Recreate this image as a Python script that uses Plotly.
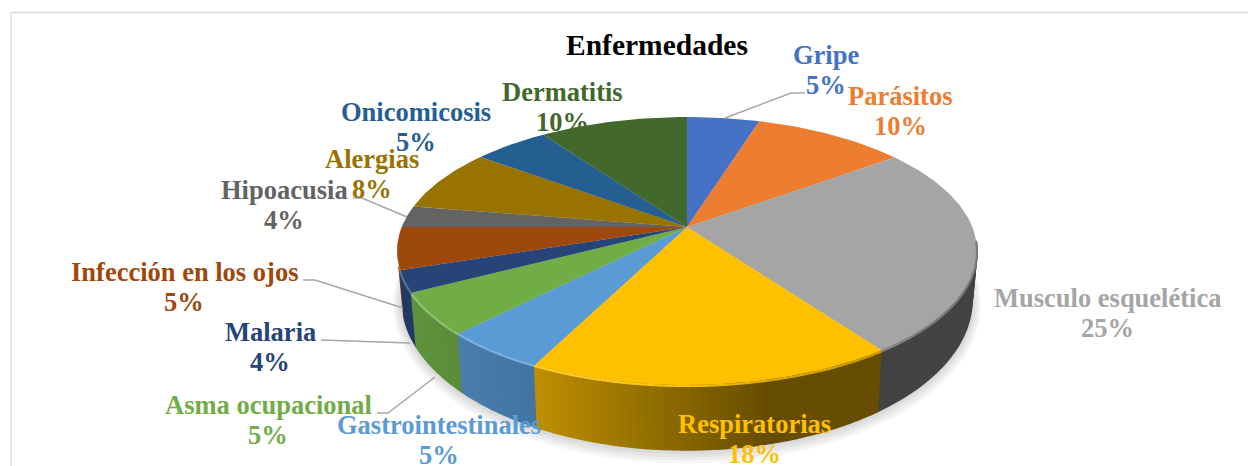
import math
import plotly.graph_objects as go

# ---- data ----
names = ["Gripe", "Parásitos", "Musculo esquelética", "Respiratorias", "Gastrointestinales",
         "Asma ocupacional", "Malaria", "Infección en los ojos", "Hipoacusia", "Alergias",
         "Onicomicosis", "Dermatitis"]
percent_labels = [5, 10, 25, 18, 5, 5, 4, 5, 4, 8, 5, 10]
slice_shares = [4.8, 10.1, 25.2, 17.3, 4.9, 5.0, 2.6, 5.1, 2.6, 7.6, 5.0, 9.8]
colors = ["#4472C4", "#ED7D31", "#A5A5A5", "#FFC000", "#5B9BD5", "#70AD47",
          "#264478", "#9E480E", "#636363", "#997300", "#255E91", "#43682B"]

# ---- label layout ----
label_x = [826, 900, 1107, 754, 439, 268, 270, 184, 284, 372, 416, 562]
label_y = [55, 96, 298, 424, 425, 405, 332, 272, 190, 159, 112, 92]
leaders = [
    ([725, 791, 805], [118, 93, 93]),
    ([353, 362, 407], [198, 198, 217]),
    ([303, 315, 403], [280, 280, 308]),
    ([321, 410], [340, 343]),
    ([377, 388, 435], [413, 413, 377]),
]

# ---- tilted pie projection ----
CX = 687
TOP_Y, APEX_Y, BOTTOM_Y, HALF_W = 117, 227, 385, 290
B_TOP, B_BOTTOM, B_HALF_W = 150, 450, 285


def proj_params(top, bottom, apex, half_w):
    up, down = apex - top, bottom - apex
    k = (down - up) / (down + up)
    return apex, half_w * math.sqrt(1 - k * k), up * (1 + k), k


TOP = proj_params(TOP_Y, BOTTOM_Y, APEX_Y, HALF_W)
k0 = TOP[3]
b2 = (B_BOTTOM - B_TOP) * (1 - k0 * k0) / 2
BOT = proj_params(B_TOP, B_BOTTOM, B_BOTTOM - b2 / (1 - k0), B_HALF_W)


def pt(theta, p):
    apex, a, b, k = p
    u, v = math.sin(theta), math.cos(theta)
    d = 1 + k * v
    return CX + a * u / d, apex - b * v / d


def shade(hex_c, f):
    r, g, b = int(hex_c[1:3], 16), int(hex_c[3:5], 16), int(hex_c[5:7], 16)
    if f <= 1:
        r, g, b = r * f, g * f, b * f
    else:
        t = f - 1
        r, g, b = r + (255 - r) * t, g + (255 - g) * t, b + (255 - b) * t
    return f"rgb({int(r)},{int(g)},{int(b)})"


def interp(x, xs, ys):
    if x <= xs[0]:
        return ys[0]
    for i in range(1, len(xs)):
        if x <= xs[i]:
            return ys[i - 1] + (ys[i] - ys[i - 1]) * (x - xs[i - 1]) / (xs[i] - xs[i - 1])
    return ys[-1]


fig = go.Figure()


def poly(xs, ys, color, line=0):
    fig.add_trace(go.Scatter(x=xs, y=ys, mode="lines", fill="toself", fillcolor=color,
                             line=dict(color=color, width=line), hoverinfo="skip",
                             showlegend=False))


# soft shadow under the pie
for d in (9, 7, 5, 3, 1):
    ts = [2 * math.pi * i / 180 for i in range(181)]
    pts = [pt(t, BOT) for t in ts]
    ay = sum(p[1] for p in pts) / len(pts)
    poly([CX + (p[0] - CX) * (1 + d / 285) for p in pts],
         [ay + (p[1] - ay) * (1 + d / 150) + d * 0.4 for p in pts], "rgba(0,0,0,0.035)")

# slice angular spans
total = sum(slice_shares)
spans = []
acc = 0.0
for s in slice_shares:
    spans.append((acc / total * 2 * math.pi, (acc + s) / total * 2 * math.pi))
    acc += s

# side wall, drawn in thin strips so that it can darken across the pie
strips = []
for i, (t0, t1) in enumerate(spans):
    n = max(1, int((t1 - t0) / math.radians(1.5)))
    for j in range(n):
        a0, a1 = t0 + (t1 - t0) * j / n, t0 + (t1 - t0) * (j + 1) / n
        mid = (a0 + a1) / 2
        limit = -0.1 if math.sin(mid) > 0 else -0.3
        if math.cos(mid) < limit:
            strips.append((math.cos(mid), a0, a1, colors[i]))
strips.sort(key=lambda s: -s[0])
for _, a0, a1, col in strips:
    p0, p1, q1, q0 = pt(a0, TOP), pt(a1, TOP), pt(a1, BOT), pt(a0, BOT)
    f = interp((p0[0] + p1[0]) / 2, [400, 535, 770, 980], [0.86, 0.75, 0.40, 0.41])
    c = shade(col, f)
    poly([p0[0], p1[0], q1[0], q0[0]], [p0[1], p1[1], q1[1], q0[1]], c, line=1.5)

# top face
for i, (t0, t1) in enumerate(spans):
    n = max(2, int((t1 - t0) / math.radians(1)))
    rim = [pt(t0 + (t1 - t0) * j / n, TOP) for j in range(n + 1)]
    poly([CX] + [p[0] for p in rim] + [CX], [APEX_Y] + [p[1] for p in rim] + [APEX_Y], colors[i])

# bevel line on the visible rim
for _, a0, a1, col in strips:
    p0, p1 = pt(a0, TOP), pt(a1, TOP)
    f = interp((p0[0] + p1[0]) / 2, [400, 560, 760, 980], [1.25, 1.2, 0.9, 0.75])
    fig.add_trace(go.Scatter(x=[p0[0], p1[0]], y=[p0[1] + 1, p1[1] + 1], mode="lines",
                             line=dict(color=shade(col, f), width=2.2),
                             hoverinfo="skip", showlegend=False))

# leader lines
for lx, ly in leaders:
    fig.add_trace(go.Scatter(x=lx, y=ly, mode="lines", line=dict(color="#A6A6A6", width=1.5),
                             hoverinfo="skip", showlegend=False))

FONT = "Liberation Serif"
ann = []
for nm, pc, x, y, c in zip(names, percent_labels, label_x, label_y, colors):
    ann.append(dict(x=x, y=y, text=f"<b>{nm}</b>", showarrow=False, xanchor="center",
                    yanchor="middle", font=dict(family=FONT, size=26.5, color=c)))
    ann.append(dict(x=x, y=y + 30, text=f"<b>{pc}%</b>", showarrow=False, xanchor="center",
                    yanchor="middle", font=dict(family=FONT, size=26.5, color=c)))
ann.append(dict(x=657, y=45, text="<b>Enfermedades</b>", showarrow=False, xanchor="center",
                yanchor="middle", font=dict(family=FONT, size=29.5, color="#000000")))

# chart frame (top and left edges are in view)
shapes = [
    dict(type="line", x0=11, x1=1248, y0=12.5, y1=12.5, line=dict(color="#D9D9D9", width=1.5)),
    dict(type="line", x0=11, x1=11, y0=12.5, y1=466, line=dict(color="#D9D9D9", width=1.5)),
]

fig.update_layout(
    width=1248, height=466, margin=dict(l=0, r=0, t=0, b=0),
    paper_bgcolor="#FFFFFF", plot_bgcolor="#FFFFFF", showlegend=False,
    xaxis=dict(range=[0, 1248], visible=False, fixedrange=True),
    yaxis=dict(range=[466, 0], visible=False, fixedrange=True),
    annotations=ann, shapes=shapes,
)
fig.write_html("out.html", config={"displayModeBar": False},
               post_script="document.body.style.margin='0';document.documentElement.style.overflow='hidden';")
